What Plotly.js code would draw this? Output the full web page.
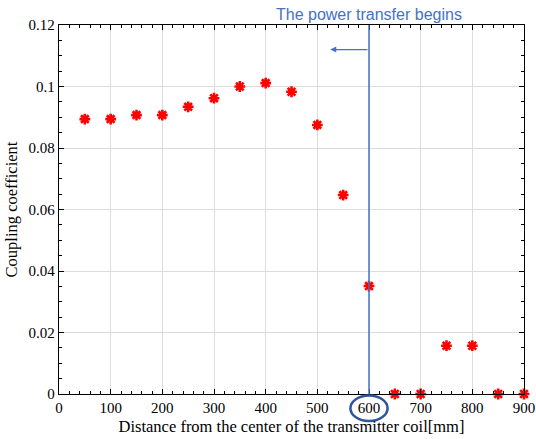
<!DOCTYPE html>
<html>
<head>
<meta charset="utf-8">
<script src="https://cdn.plot.ly/plotly-3.0.1.min.js"></script>
<style>html,body{margin:0;padding:0;background:#fff}#chart{width:536px;height:439px}</style>
</head>
<body>
<div id="chart"></div>
<script>
const distances = [50,100,150,200,250,300,350,400,450,500,550,600,650,700,750,800,850,900];
const coupling = [0.0894,0.0894,0.0907,0.0907,0.0934,0.0962,0.1000,0.1011,0.0983,0.0875,0.0647,0.0351,0,0,0.0157,0.0157,0,0];
const xTicks = [0,100,200,300,400,500,600,700,800,900];
const yTicks = [0,0.02,0.04,0.06,0.08,0.1,0.12];
const yTickLabels = ['0','0.02','0.04','0.06','0.08','0.1','0.12'];
const transferStart = 600;
const noteText = 'The power transfer begins';
const blue = '#4472C4';
const serif = 'Liberation Serif, Times New Roman, serif';

const starTrace = {
  x: distances, y: coupling, type: 'scatter', mode: 'markers',
  marker: {symbol: 'asterisk-open', size: 9, color: '#ff0000', line: {color: '#ff0000', width: 2.6}},
  cliponaxis: false, showlegend: false
};
const coreTrace = {
  x: distances, y: coupling, type: 'scatter', mode: 'markers',
  marker: {symbol: 'circle', size: 6, color: '#ff0000', line: {width: 0}},
  cliponaxis: false, showlegend: false
};

const layout = {
  width: 536, height: 439,
  margin: {l: 59, r: 12, t: 25, b: 45},
  paper_bgcolor: '#fff', plot_bgcolor: '#fff',
  font: {family: serif, size: 15, color: '#000'},
  xaxis: {
    range: [0, 900], tickvals: xTicks, ticktext: xTicks.map(String),
    ticks: 'inside', ticklen: 5, tickcolor: '#000', mirror: 'ticks',
    showline: true, linecolor: '#000', linewidth: 1.2,
    showgrid: true, gridcolor: '#dcdcdc', gridwidth: 1, zeroline: false,
    minor: {dtick: 20, ticks: 'inside', ticklen: 3, tickcolor: '#000', showgrid: false},
    tickfont: {family: serif, size: 15}, ticklabeloverflow: 'allow',
    title: {text: 'Distance from the center of the transmitter coil[mm]', font: {family: serif, size: 16.5}, standoff: 5}
  },
  yaxis: {
    range: [0, 0.12], tickvals: yTicks, ticktext: yTickLabels,
    ticks: 'inside', ticklen: 5, tickcolor: '#000', mirror: 'ticks',
    showline: true, linecolor: '#000', linewidth: 1.2,
    showgrid: true, gridcolor: '#dcdcdc', gridwidth: 1, zeroline: false,
    minor: {dtick: 0.005, ticks: 'inside', ticklen: 3, tickcolor: '#000', showgrid: false},
    tickfont: {family: serif, size: 15},
    title: {text: 'Coupling coefficient', font: {family: serif, size: 16.5}, standoff: 6}
  },
  shapes: [
    {type: 'line', xref: 'x', yref: 'paper', x0: transferStart, x1: transferStart, y0: 0, y1: 1,
     line: {color: blue, width: 1.5}},
    {type: 'circle', xref: 'x', yref: 'paper', x0: transferStart - 36, x1: transferStart + 36, y0: -0.073, y1: -0.004,
     line: {color: '#2F5597', width: 2.5}}
  ],
  annotations: [
    {xref: 'x', yref: 'paper', x: transferStart, y: 1.028, text: noteText, showarrow: false,
     xanchor: 'center', yanchor: 'middle', font: {family: 'Liberation Sans, Arial, sans-serif', size: 16, color: blue}},
    {xref: 'x', yref: 'y', axref: 'x', ayref: 'y', x: 525, y: 0.112, ax: transferStart, ay: 0.112,
     text: '', showarrow: true, arrowhead: 2, arrowsize: 1, arrowwidth: 1.2, arrowcolor: blue}
  ]
};

Plotly.newPlot('chart', [coreTrace, starTrace], layout, {displayModeBar: false, staticPlot: true});
</script>
</body>
</html>
